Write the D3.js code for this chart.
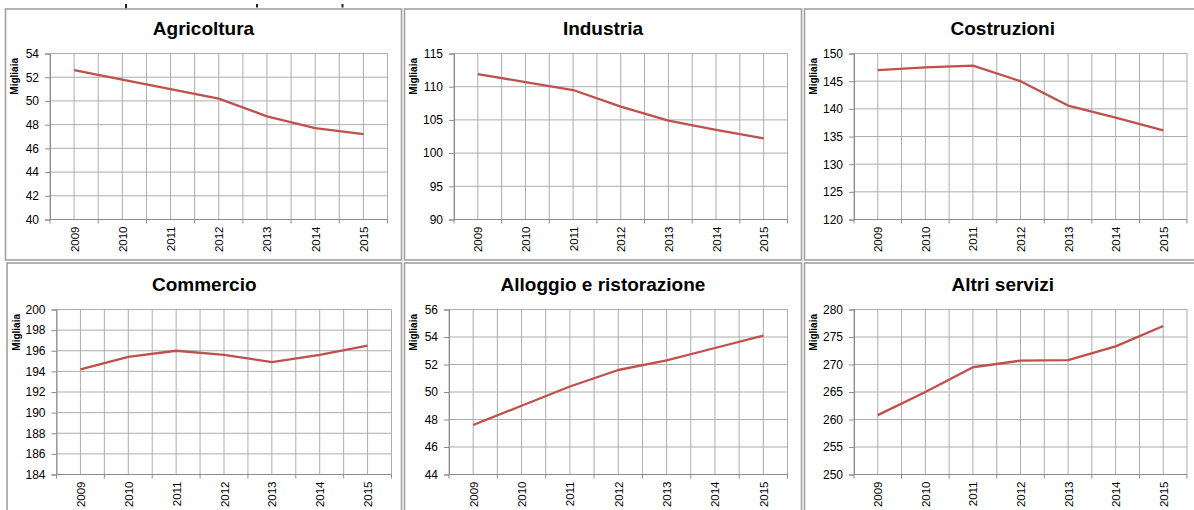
<!DOCTYPE html>
<html>
<head>
<meta charset="utf-8">
<script src="https://cdn.jsdelivr.net/npm/d3@7"></script>
<style>
  body { margin: 0; background: #fff; }
  svg { display: block; }
  text { font-family: "Liberation Sans", Arial, sans-serif; fill: #000; }
</style>
</head>
<body>
<svg id="chart" width="1194" height="510"></svg>
<script>
// Occupati per settore (migliaia), 2009-2015
const years = ["2009", "2010", "2011", "2012", "2013", "2014", "2015"];

const agricoltura = [52.6, 51.8, 51.0, 50.2, 48.7, 47.7, 47.2];
const industria   = [111.9, 110.7, 109.5, 107.0, 104.9, 103.5, 102.2];
const costruzioni = [147.0, 147.5, 147.8, 145.0, 140.6, 138.4, 136.1];
const commercio   = [194.2, 195.4, 196.0, 195.6, 194.9, 195.6, 196.5];
const alloggio    = [47.6, 49.0, 50.4, 51.6, 52.3, 53.2, 54.1];
const altri       = [260.8, 265.0, 269.5, 270.7, 270.8, 273.3, 277.0];

const titles = ["Agricoltura", "Industria", "Costruzioni",
                "Commercio", "Alloggio e ristorazione", "Altri servizi"];
const seriesList = [agricoltura, industria, costruzioni, commercio, alloggio, altri];

// axis ranges [min, max, step] for each panel
const yRanges = [[40, 54, 2], [90, 115, 5], [120, 150, 5],
                 [184, 200, 2], [44, 56, 2], [250, 280, 5]];

const yTitle = "Migliaia";

// ---- layout ----
const colLeft  = [5.5, 404.5, 804.5];
const colRight = [401.5, 801.5, 1201];
const rowTop   = [9, 263];
const rowBottom = [260, 520];
const plotTop  = [53.5, 309.5];
const plotBottom = [219.5, 474.5];

const lineColor = "#c0504d";
const gridColor = "#adadad";
const axisColor = "#8c8c8c";
const frameColor = "#a0a0a0";

const svg = d3.select("#chart");

// bits of the line of text above the panels, cut off at the top edge
[[125, 4, 2, 4.5], [256, 4, 2, 3.5], [341.5, 4, 2, 3.5]].forEach(([x, y, w, h]) => {
  svg.append("rect").attr("x", x).attr("y", y).attr("width", w).attr("height", h)
     .attr("fill", "#222");
});

seriesList.forEach((values, i) => {
  const row = Math.floor(i / 3), col = i % 3;
  let px0 = colLeft[col];
  if (i === 3) px0 = 7;
  const px1 = colRight[col];
  const py0 = rowTop[row], py1 = rowBottom[row];

  const [yMin, yMax, yStep] = yRanges[i];
  const digits = String(yMax).length;
  const left = px0 + (digits >= 3 ? 49.5 : 44.5);
  const right = (i === 3) ? px1 - 10 : px1 - 14;
  const top = plotTop[row], bottom = plotBottom[row];

  const g = svg.append("g");

  // panel frame
  g.append("rect")
    .attr("x", px0).attr("y", py0)
    .attr("width", px1 - px0).attr("height", py1 - py0)
    .attr("fill", "#fff").attr("stroke", frameColor).attr("stroke-width", 1.6);

  // title
  g.append("text")
    .attr("x", (px0 + px1) / 2).attr("y", top - 18.5)
    .attr("text-anchor", "middle")
    .attr("font-size", 19).attr("font-weight", "bold")
    .attr("fill", "#111")
    .text(titles[i]);

  const x = d3.scaleBand().domain(years).range([left, right]).padding(0);
  const y = d3.scaleLinear().domain([yMin, yMax]).range([bottom, top]);
  const bw = x.bandwidth();
  const yTicks = d3.range(yMin, yMax + yStep / 2, yStep);

  // horizontal grid
  g.selectAll(".hg").data(yTicks).join("line")
    .attr("x1", left).attr("x2", right)
    .attr("y1", d => y(d)).attr("y2", d => y(d))
    .attr("stroke", gridColor).attr("stroke-width", 1);

  // vertical grid: band edges and band centres
  const vPos = d3.range(0, years.length * 2 + 1).map(k => left + k * bw / 2);
  g.selectAll(".vg").data(vPos).join("line")
    .attr("x1", d => d).attr("x2", d => d)
    .attr("y1", top).attr("y2", bottom)
    .attr("stroke", gridColor).attr("stroke-width", 1);

  // y axis
  const yAxis = d3.axisLeft(y).tickValues(yTicks).tickSize(5).tickPadding(6)
    .tickFormat(d3.format("d"));
  const ya = g.append("g").attr("transform", `translate(${left},0)`).call(yAxis);
  ya.select(".domain").attr("stroke", axisColor);
  ya.selectAll(".tick line").attr("stroke", axisColor);
  ya.selectAll(".tick text")
    .attr("font-size", 12).attr("font-family", "Liberation Sans, Arial, sans-serif")
    .attr("fill", "#000");

  // x axis: ticks at band edges, labels at band centres, rotated
  g.append("line").attr("x1", left).attr("x2", right)
    .attr("y1", bottom).attr("y2", bottom).attr("stroke", axisColor);
  const edges = d3.range(0, years.length + 1).map(k => left + k * bw);
  g.selectAll(".xt").data(edges).join("line")
    .attr("x1", d => d).attr("x2", d => d)
    .attr("y1", bottom).attr("y2", bottom + 4)
    .attr("stroke", axisColor);
  g.selectAll(".xl").data(years).join("text")
    .attr("transform", d => `translate(${x(d) + bw / 2 + 4.5},${bottom + 7}) rotate(-90)`)
    .attr("text-anchor", "end")
    .attr("font-size", 11.5)
    .text(d => d);

  // y axis title
  g.append("text")
    .attr("transform", `translate(${px0 + 12.5},${top + 4.5}) rotate(-90)`)
    .attr("text-anchor", "end")
    .attr("font-size", 10).attr("font-weight", "bold")
    .attr("fill", "#333")
    .text(yTitle);

  // series line
  const line = d3.line()
    .x((d, k) => x(years[k]) + bw / 2)
    .y(d => y(d));
  g.append("path").datum(values)
    .attr("d", line)
    .attr("fill", "none")
    .attr("stroke", lineColor)
    .attr("stroke-width", 2.3)
    .attr("stroke-linejoin", "round");
});
</script>
</body>
</html>
